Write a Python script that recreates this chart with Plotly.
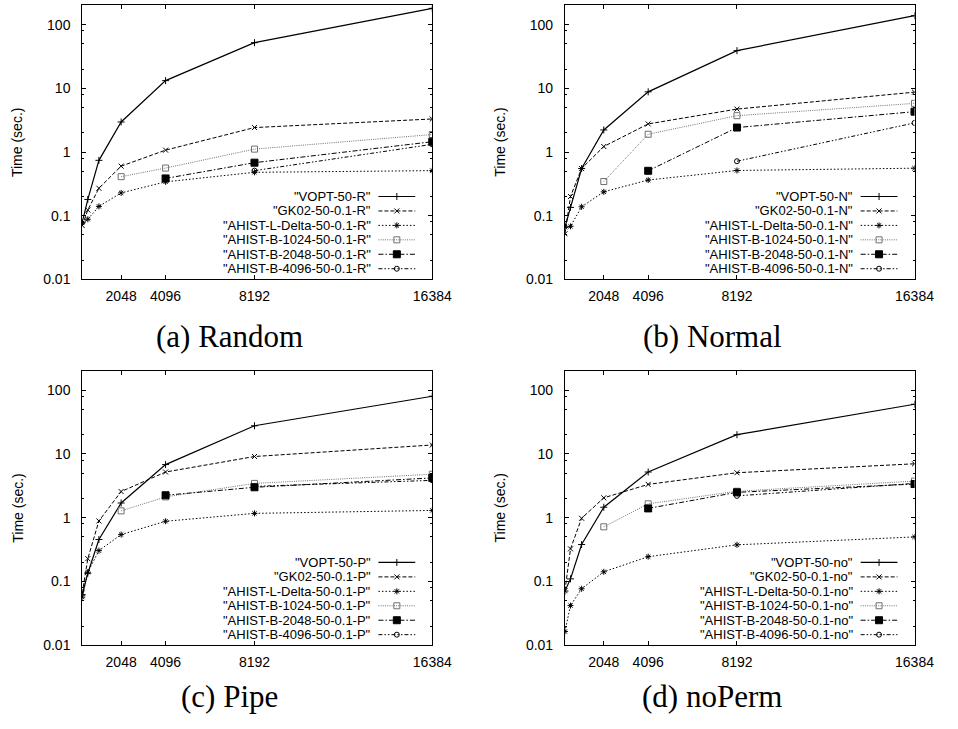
import plotly.graph_objects as go

W, H = 958, 729

# Input sizes (number of values) and axis ticks
sizes = [256, 512, 1024, 2048, 4096, 8192, 16384]
x_tick_vals = [2048, 4096, 8192, 16384]
x_tick_text = ["2048", "4096", "8192", "16384"]
y_tick_vals = [0.01, 0.1, 1, 10, 100]
y_tick_text = ["0.01", "0.1", "1", "10", "100"]
y_minor_vals = [m * d for d in (0.01, 0.1, 1, 10, 100) for m in (2, 5, 8) if m * d <= 200]

methods = [
    "VOPT-50",
    "GK02-50-0.1",
    "AHIST-L-Delta-50-0.1",
    "AHIST-B-1024-50-0.1",
    "AHIST-B-2048-50-0.1",
    "AHIST-B-4096-50-0.1",
]
captions = ["(a) Random", "(b) Normal", "(c) Pipe", "(d) noPerm"]
suffixes = ["R", "N", "P", "no"]

# Running time in seconds, one list per method (None = not run for that size)
random_vopt = [0.079, 0.18, 0.74, 2.96, 13.2, 52, 180]
random_gk02 = [0.07, 0.123, 0.27, 0.60, 1.07, 2.42, 3.3]
random_ldelta = [0.077, 0.088, 0.14, 0.228, 0.34, 0.48, 0.51]
random_b1024 = [None, None, None, 0.41, 0.56, 1.11, 1.88]
random_b2048 = [None, None, None, None, 0.385, 0.68, 1.45]
random_b4096 = [None, None, None, None, None, 0.51, 1.32]

normal_vopt = [0.066, 0.135, 0.55, 2.22, 8.8, 39, 138]
normal_gk02 = [0.052, 0.2, 0.55, 1.22, 2.76, 4.72, 8.7]
normal_ldelta = [0.066, 0.068, 0.138, 0.237, 0.363, 0.513, 0.557]
normal_b1024 = [None, None, None, 0.344, 1.9, 3.72, 5.8]
normal_b2048 = [None, None, None, None, 0.507, 2.42, 4.3]
normal_b4096 = [None, None, None, None, None, 0.716, 2.86]

pipe_vopt = [0.062, 0.135, 0.455, 1.7, 6.8, 27.6, 80]
pipe_gk02 = [0.066, 0.228, 0.89, 2.57, 5.2, 9.1, 13.8]
pipe_ldelta = [0.057, 0.14, 0.305, 0.544, 0.88, 1.17, 1.3]
pipe_b1024 = [None, None, None, 1.28, 2.12, 3.45, 4.8]
pipe_b2048 = [None, None, None, None, 2.25, 3.0, 4.2]
pipe_b4096 = [None, None, None, None, None, 3.1, 3.85]

noperm_vopt = [0.071, 0.11, 0.38, 1.46, 5.2, 20, 60]
noperm_gk02 = [0.072, 0.325, 0.98, 2.05, 3.33, 5.07, 7.0]
noperm_ldelta = [0.0165, 0.042, 0.077, 0.142, 0.245, 0.376, 0.5]
noperm_b1024 = [None, None, None, 0.72, 1.65, 2.6, 3.75]
noperm_b2048 = [None, None, None, None, 1.4, 2.5, 3.37]
noperm_b4096 = [None, None, None, None, None, 2.2, 3.45]

panels = [
    [random_vopt, random_gk02, random_ldelta, random_b1024, random_b2048, random_b4096],
    [normal_vopt, normal_gk02, normal_ldelta, normal_b1024, normal_b2048, normal_b4096],
    [pipe_vopt, pipe_gk02, pipe_ldelta, pipe_b1024, pipe_b2048, pipe_b4096],
    [noperm_vopt, noperm_gk02, noperm_ldelta, noperm_b1024, noperm_b2048, noperm_b4096],
]

# gnuplot-like line/point styles
styles = [
    dict(color="black", width=1.2, dash="solid", symbol="cross-thin", size=5, fill="black"),
    dict(color="black", width=1.0, dash="4px,2px", symbol="x-thin", size=5, fill="black"),
    dict(color="black", width=1.0, dash="1.5px,2px", symbol="asterisk", size=5, fill="black"),
    dict(color="#707070", width=1.0, dash="1px,1.2px", symbol="square-open", size=6, fill="#707070"),
    dict(color="black", width=1.0, dash="5px,2px,1.5px,2px", symbol="square", size=7, fill="black"),
    dict(color="black", width=1.0, dash="4px,2px,1.5px,2px,1.5px,2px", symbol="circle-open", size=5, fill="black"),
]

# panel frames in pixels: (left, right, top, bottom)
frames = [
    (84, 441.5, 5.5, 282.5),
    (577, 934, 5.5, 282.5),
    (84, 441.5, 375, 652.5),
    (577, 934, 375, 652.5),
]
caption_y = [340, 340, 704, 704]

SANS = "Liberation Sans, Arial, sans-serif"
SERIF = "Liberation Serif, Times New Roman, serif"
KEY_FONT = 13
KEY_STEP = 14.6


def marker_for(st, size=None):
    return dict(symbol=st["symbol"], size=size or st["size"], color=st["fill"],
                line=dict(color=st["color"], width=1))


fig = go.Figure()
layout = dict(
    width=W, height=H,
    margin=dict(l=0, r=0, t=0, b=0),
    paper_bgcolor="white",
    plot_bgcolor="rgba(0,0,0,0)",
    showlegend=False,
    font=dict(family=SANS, size=14, color="black"),
)
annotations = []

for p, (series, frame) in enumerate(zip(panels, frames)):
    left, right, top, bottom = frame
    n = p + 1
    xa = "x" if n == 1 else f"x{n}"
    ya = "y" if n == 1 else f"y{n}"
    layout[f"xaxis{'' if n == 1 else n}"] = dict(
        domain=[left / W, right / W], anchor=ya,
        range=[sizes[0], sizes[-1]],
        tickmode="array", tickvals=x_tick_vals, ticktext=x_tick_text,
        ticks="inside", ticklen=4, tickwidth=1, tickcolor="black",
        showline=True, linecolor="black", linewidth=1, mirror="allticks",
        showgrid=False, zeroline=False, ticklabelstandoff=4,
        tickfont=dict(family=SANS, size=14, color="black"),
    )
    layout[f"yaxis{'' if n == 1 else n}"] = dict(
        domain=[1 - bottom / H, 1 - top / H], anchor=xa,
        type="log", range=[-2, 2.30103],
        tickmode="array", tickvals=y_tick_vals, ticktext=y_tick_text,
        ticks="inside", ticklen=4, tickwidth=1, tickcolor="black",
        minor=dict(tickmode="array", tickvals=y_minor_vals, ticks="inside",
                   ticklen=2, tickwidth=1, tickcolor="black"),
        showline=True, linecolor="black", linewidth=1, mirror="allticks",
        showgrid=False, zeroline=False, ticklabelstandoff=8,
        tickfont=dict(family=SANS, size=14, color="black"),
    )
    for k, (vals, st) in enumerate(zip(series, styles)):
        fig.add_trace(go.Scatter(
            x=sizes, y=vals, xaxis=xa, yaxis=ya, mode="lines+markers",
            line=dict(color=st["color"], width=st["width"], dash=st["dash"]),
            marker=marker_for(st), connectgaps=False,
            name=f'"{methods[k]}-{suffixes[p]}"',
        ))

    # y-axis title
    annotations.append(dict(
        text="Time (sec.)", textangle=-90, showarrow=False,
        xref="paper", yref="paper", x=(left - 66) / W, y=1 - (top + bottom) / 2 / H,
        xanchor="center", yanchor="middle", font=dict(family=SANS, size=14),
    ))
    # caption below each panel
    annotations.append(dict(
        text=captions[p], showarrow=False,
        xref="paper", yref="paper", x=((left + right) / 2 - 28) / W, y=1 - caption_y[p] / H,
        xanchor="center", yanchor="middle", font=dict(family=SERIF, size=31),
    ))

    # key: right-aligned text with line sample on its right
    for k, st in enumerate(styles):
        row_y = bottom - 10.8 - (len(styles) - 1 - k) * KEY_STEP
        annotations.append(dict(
            text=f'"{methods[k]}-{suffixes[p]}"', showarrow=False,
            xref="paper", yref="paper", x=(right - 62) / W, y=1 - row_y / H,
            xanchor="right", yanchor="middle", borderpad=0,
            font=dict(family=SANS, size=KEY_FONT),
        ))
        x0, x1 = right - 55, right - 17.4
        fig.add_trace(go.Scatter(
            x=[x0, x1], y=[row_y, row_y], xaxis="x5", yaxis="y5", mode="lines",
            line=dict(color=st["color"], width=st["width"], dash=st["dash"]),
            hoverinfo="skip",
        ))
        fig.add_trace(go.Scatter(
            x=[(x0 + x1) / 2], y=[row_y], xaxis="x5", yaxis="y5", mode="markers",
            marker=marker_for(st), hoverinfo="skip",
        ))

# pixel-space overlay used for the keys
layout["xaxis5"] = dict(domain=[0, 1], range=[0, W], visible=False, anchor="y5", fixedrange=True)
layout["yaxis5"] = dict(domain=[0, 1], range=[H, 0], visible=False, anchor="x5", fixedrange=True)
layout["annotations"] = annotations

fig.update_layout(**layout)
fig.write_html("out.html")
